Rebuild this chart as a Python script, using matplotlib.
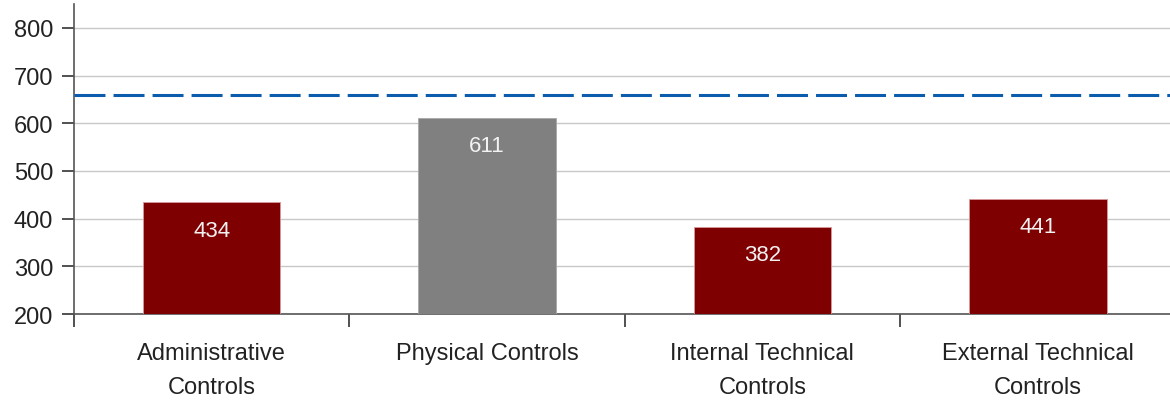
import numpy as np
import matplotlib
matplotlib.use('Agg')
import matplotlib.pyplot as plt

plt.rcParams['font.family'] = ['Liberation Sans', 'DejaVu Sans']

# データ
categories = ['Administrative\nControls', 'Physical Controls',
              'Internal Technical\nControls', 'External Technical\nControls']
scores = [434, 611, 382, 441]
bar_colors = ['#7f0000', '#808080', '#7f0000', '#7f0000']
edge_colors = ['#d89a9a', '#a8a8a8', '#d89a9a', '#d89a9a']
benchmark = 660

fig = plt.figure(figsize=(11.7, 4.02), dpi=100)
ax = fig.add_axes([0.0632, 0.2164, 0.9368, 0.7712])

x = np.arange(len(categories))
bars = ax.bar(x, scores, width=0.5, bottom=0, color=bar_colors,
              edgecolor=edge_colors, linewidth=0.6, zorder=3)

for xi, v in zip(x, scores):
    ax.annotate(str(v), xy=(xi, v), xytext=(0, -20), textcoords='offset points',
                ha='center', va='center', color='#f2f2f2', fontsize=16, zorder=4)

# 基準線（破線）
lw = 2.2
ax.axhline(benchmark, color='#0b5cad', linewidth=lw,
           dashes=(22.3 / lw, 5.8 / lw), zorder=4)

ax.set_ylim(200, 850)
ax.set_xlim(-0.5, 3.48)
ax.set_yticks(range(200, 900, 100))
ax.yaxis.grid(True, color='#c8c8c8', linewidth=1.0, zorder=0)
ax.set_axisbelow(True)

# 区切り目盛りとカテゴリラベル
ax.set_xticks(np.arange(-0.5, 3.5, 1.0))
ax.set_xticklabels([])
ax.set_xticks(x, minor=True)
ax.set_xticklabels(categories, minor=True, fontsize=17, linespacing=1.72,
                   color='#222222')
ax.tick_params(axis='x', which='major', length=9, width=1.2, color='#333333',
               direction='out')
ax.tick_params(axis='x', which='minor', length=0, pad=20)
ax.tick_params(axis='y', length=9, width=1.2, color='#333333', labelsize=17,
               labelcolor='#222222', pad=6)

for s in ['top', 'right']:
    ax.spines[s].set_visible(False)
for s in ['left', 'bottom']:
    ax.spines[s].set_color('#555555')
    ax.spines[s].set_linewidth(1.2)

fig.savefig('out.png', dpi=100)
